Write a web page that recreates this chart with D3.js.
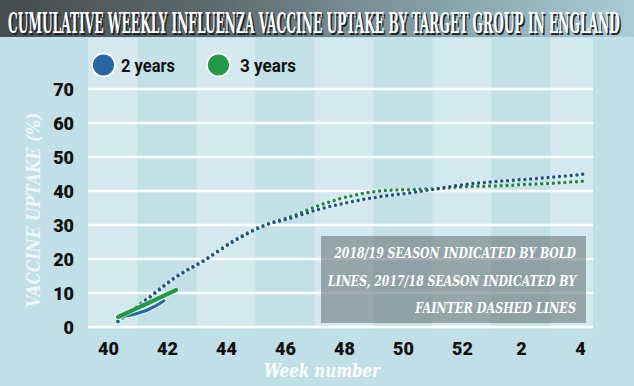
<!DOCTYPE html>
<html><head><meta charset="utf-8">
<script src="https://cdn.jsdelivr.net/npm/d3@7"></script>
<style>
html,body{margin:0;padding:0;background:#c1dfe6;}
svg{display:block;}
</style></head>
<body>
<svg id="chart" width="634" height="386"></svg>
<script>
// ---- data ----
const weekLabels = ["40","41","42","43","44","45","46","47","48","49","50","51","52","1","2","3","4"];
const tickIndex = [0,2,4,6,8,10,12,14,16];
const tickLabels = ["40","42","44","46","48","50","52","2","4"];
const yTicks = [0,10,20,30,40,50,60,70];

// 2017/18 season (fainter dotted lines), weekly from week 40 to week 4
const twoYears1718   = [1.6,8.1,14.7,19.7,25.3,29.7,32.2,34.8,36.8,38.3,39.4,40.7,42.0,42.8,43.4,44.1,44.9];
const threeYears1718 = [1.8,8.3,14.8,19.8,25.5,29.8,32.6,36.0,38.5,40.0,40.4,40.7,41.3,41.5,41.9,42.3,42.9];
// 2018/19 season (bold lines)
const twoYears1819Weeks   = [0,1.3,1.58];
const twoYears1819        = [2.8,6.2,7.7];
const threeYears1819Weeks = [0,1,2];
const threeYears1819      = [3.0,6.9,10.9];

const seriesNames = ["2 years","3 years"];
const seriesColors = ["#2766a3","#23994a"];
const dotColors = ["#17528f","#1a8a3a"];

const titleText = "CUMULATIVE WEEKLY INFLUENZA VACCINE UPTAKE BY TARGET GROUP IN ENGLAND";
const noteLines = ["2018/19 SEASON INDICATED BY BOLD","LINES, 2017/18 SEASON INDICATED BY","FAINTER DASHED LINES"];

// ---- drawing ----
const svg = d3.select("#chart");
const W = 634, H = 386;
const plotL = 88, plotR = 593, plotTop = 38;

const x = d3.scaleLinear().domain([-0.68,16.44]).range([plotL, plotR]);
const xp = d3.scaleLinear().domain([0,16]).range([118,583]); // point positions within weeks
const y = d3.scaleLinear().domain([0,70]).range([327,89]);

// place a text at (tx,ty) and horizontally scale it to width w
function fitText(parent, txt, tx, ty, w, anchor, attrs, rotate){
  const t = parent.append("text").attr("x",0).attr("y",0).attr("text-anchor",anchor||"start").text(txt);
  Object.entries(attrs).forEach(([k,v])=>t.attr(k,v));
  const L = t.node().getComputedTextLength();
  const k = w / L;
  t.attr("transform",`translate(${tx},${ty})${rotate?` rotate(${rotate})`:""} scale(${k},1)`);
  return t;
}

const defs = svg.append("defs");
const grad = defs.append("linearGradient").attr("id","tg").attr("x1","0").attr("x2","1");
grad.append("stop").attr("offset","0").attr("stop-color","#474c4d");
grad.append("stop").attr("offset","0.35").attr("stop-color","#5f6b6e");
grad.append("stop").attr("offset","0.7").attr("stop-color","#86a3a9");
grad.append("stop").attr("offset","1").attr("stop-color","#a9ccd4");

svg.append("rect").attr("width",W).attr("height",H).attr("fill","#c1dfe6");

// vertical bands
const bandEdges = [-0.68,1,3,5,7,9,11,13,15,16.44];
for (let i=0;i<bandEdges.length-1;i++){
  svg.append("rect")
    .attr("x", x(bandEdges[i])).attr("y", plotTop)
    .attr("width", x(bandEdges[i+1]) - x(bandEdges[i]))
    .attr("height", y(0) - plotTop + 2)
    .attr("fill", i%2===0 ? "#d4e9ee" : "#c3e0e7");
}

// title bar
svg.append("rect").attr("x",0).attr("y",0).attr("width",W).attr("height",37).attr("fill","url(#tg)");
const titleAttrs = {"font-family":"'DejaVu Serif Condensed','DejaVu Serif',serif","font-stretch":"condensed",
  "font-weight":"bold","font-size":28};
fitText(svg, titleText, 9.5, 34.5, 612, "start", Object.assign({fill:"#1e2223"},titleAttrs));
fitText(svg, titleText, 8, 33, 612, "start", Object.assign({fill:"#ffffff"},titleAttrs));

// gridlines
svg.append("g").selectAll("line").data(yTicks).join("line")
  .attr("x1",plotL).attr("x2",plotR)
  .attr("y1",d=>y(d)).attr("y2",d=>y(d))
  .attr("stroke","#ffffff").attr("stroke-width",2.5);

// y axis labels
const yAxis = d3.axisLeft(y).tickValues(yTicks).tickSize(0).tickPadding(0).tickFormat(d3.format("d"));
const gy = svg.append("g").attr("transform","translate(74,0)").call(yAxis);
gy.select(".domain").remove();
gy.selectAll("text").attr("font-family","Roboto,'Open Sans',sans-serif").attr("font-weight",900)
  .attr("font-size",18).attr("fill","#111").attr("dy","0.36em");

// x axis labels
const xAxis = d3.axisBottom(x).tickValues(tickIndex).tickSize(0).tickPadding(0)
  .tickFormat((d,i)=>tickLabels[i]);
const gx = svg.append("g").attr("transform","translate(0,341)").call(xAxis);
gx.select(".domain").remove();
gx.selectAll("text").attr("font-family","Roboto,'Open Sans',sans-serif").attr("font-weight",900)
  .attr("font-size",18).attr("fill","#111").attr("dy","0.75em");

// axis titles
const italicSerif = {"font-family":"'DejaVu Serif',serif","font-weight":"bold","font-style":"italic"};
fitText(svg, "Week number", 322, 377, 116, "middle", Object.assign({"font-size":19,fill:"#ffffff"},italicSerif));
fitText(svg, "VACCINE UPTAKE (%)", 40, 210, 195, "middle", Object.assign({"font-size":18,fill:"#eef7f9"},italicSerif), -90);

// legend
const leg = [{cx:103.5,tx:121,tw:54},{cx:218.5,tx:240,tw:56}];
leg.forEach((l,i)=>{
  svg.append("circle").attr("cx",l.cx).attr("cy",65).attr("r",11.5)
    .attr("fill",seriesColors[i]).attr("stroke","#ffffff").attr("stroke-width",1.8);
  fitText(svg, seriesNames[i], l.tx, 72, l.tw, "start",
    {"font-family":"Roboto,'Open Sans',sans-serif","font-weight":"bold","font-size":18,fill:"#111"});
});

// annotation box
svg.append("rect").attr("x",321).attr("y",236).attr("width",265).attr("height",87)
  .attr("fill","#6f7a7d").attr("fill-opacity",0.62);
const noteX = 576, noteY = [257.5,286,312.5], noteW = [242,248,161];
noteLines.forEach((t,i)=>{
  fitText(svg, t, noteX, noteY[i], noteW[i], "end", Object.assign({"font-size":15,fill:"#ffffff"},italicSerif));
});

// dotted lines (2017/18)
const line = d3.line().x(d=>xp(d[0])).y(d=>y(d[1])).curve(d3.curveMonotoneX);
const dotted = [threeYears1718, twoYears1718];
const dottedColors = [dotColors[1], dotColors[0]];
dotted.forEach((vals,i)=>{
  const pts = vals.map((v,j)=>[j,v]);
  svg.append("path").attr("d",line(pts)).attr("fill","none")
    .attr("stroke","#ffffff").attr("stroke-width",2.2).attr("stroke-opacity",0.75);
  svg.append("path").attr("d",line(pts)).attr("fill","none")
    .attr("stroke",dottedColors[i]).attr("stroke-width",3.5)
    .attr("stroke-linecap","round").attr("stroke-dasharray","0 5.8");
});

// bold lines (2018/19)
const bold = [
  {w:twoYears1819Weeks, v:twoYears1819, c:seriesColors[0], sw:3},
  {w:threeYears1819Weeks, v:threeYears1819, c:seriesColors[1], sw:4.2}
];
bold.forEach(b=>{
  const pts = b.w.map((w,j)=>[w,b.v[j]]);
  svg.append("path").attr("d",line(pts)).attr("fill","none")
    .attr("stroke","#ffffff").attr("stroke-opacity",0.5).attr("stroke-width",b.sw+2).attr("stroke-linecap","round");
  svg.append("path").attr("d",line(pts)).attr("fill","none")
    .attr("stroke",b.c).attr("stroke-width",b.sw).attr("stroke-linecap","round");
});
</script>
</body></html>
